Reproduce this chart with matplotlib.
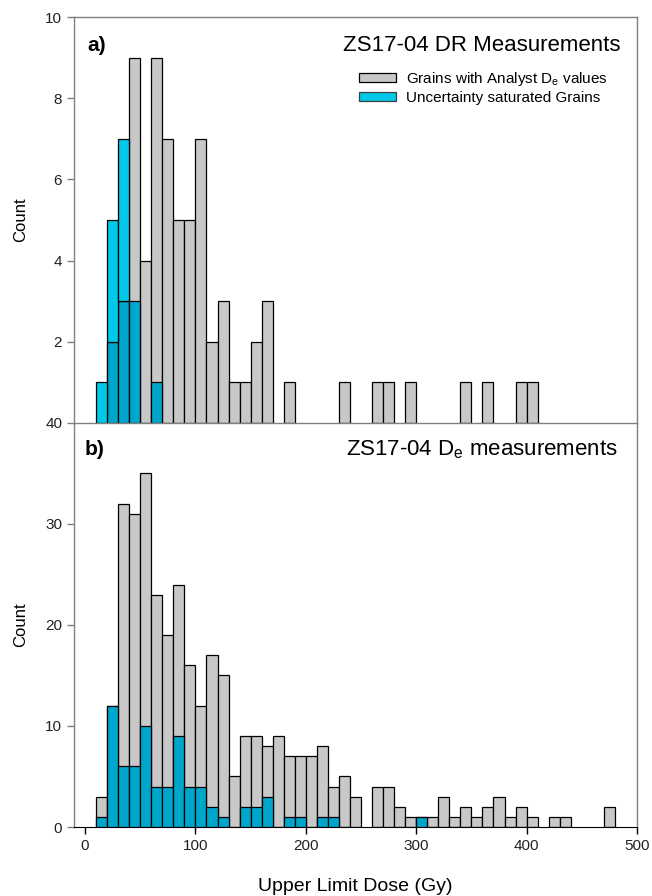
import numpy as np
import matplotlib
matplotlib.use("Agg")
import matplotlib.pyplot as plt
from matplotlib.patches import Patch

plt.rcParams['font.family'] = ['Liberation Sans', 'DejaVu Sans']
plt.rcParams['mathtext.default'] = 'regular'

# limites inferiores de los intervalos (Gy), ancho 10 Gy
bordes = np.arange(10, 490, 10)

# panel a) ZS17-04 DR
dr_gris = [0, 2, 3, 9, 4, 9, 7, 5, 5, 7, 2, 3, 1, 1, 2, 3, 0, 1, 0, 0,
           0, 0, 1, 0, 0, 1, 1, 0, 1, 0, 0, 0, 0, 1, 0, 1, 0, 0, 1, 1,
           0, 0, 0, 0, 0, 0, 0, 0]
dr_cian = [1, 5, 7, 3, 0, 1, 0, 0, 0, 0, 0, 0, 0, 0, 0, 0, 0, 0, 0, 0,
           0, 0, 0, 0, 0, 0, 0, 0, 0, 0, 0, 0, 0, 0, 0, 0, 0, 0, 0, 0,
           0, 0, 0, 0, 0, 0, 0, 0]

# panel b) ZS17-04 De
de_gris = [3, 12, 32, 31, 35, 23, 19, 24, 16, 12, 17, 15, 5, 9, 9, 8, 9, 7, 7, 7,
           8, 4, 5, 3, 0, 4, 4, 2, 1, 1, 1, 3, 1, 2, 1, 2, 3, 1, 2, 1,
           0, 1, 1, 0, 0, 0, 2, 0]
de_cian = [1, 12, 6, 6, 10, 4, 4, 9, 4, 4, 2, 1, 0, 2, 2, 3, 0, 1, 1, 0,
           1, 1, 0, 0, 0, 0, 0, 0, 0, 1, 0, 0, 0, 0, 0, 0, 0, 0, 0, 0,
           0, 0, 0, 0, 0, 0, 0, 0]

GRIS = '#c8c8c8'
CIAN = '#00c8e8'
CIAN_OSC = '#00a5cc'
EJE = '#808080'


def dibujar_histograma(ax, gris, cian):
    gris = np.array(gris)
    cian = np.array(cian)
    solape = np.minimum(gris, cian)
    exceso = np.clip(cian - gris, 0, None)
    m = gris > 0
    ax.bar(bordes[m], gris[m], width=10, align='edge', color=GRIS,
           edgecolor='black', linewidth=0.9, zorder=2)
    m = solape > 0
    ax.bar(bordes[m], solape[m], width=10, align='edge', color=CIAN_OSC,
           edgecolor='black', linewidth=0.9, zorder=3)
    m = exceso > 0
    ax.bar(bordes[m], exceso[m], bottom=gris[m], width=10, align='edge',
           color=CIAN, edgecolor='black', linewidth=0.9, zorder=3)


fig = plt.figure(figsize=(6.52, 8.96), dpi=100)
ax_a = fig.add_axes([0.1135, 0.528, 0.8635, 0.453])
ax_b = fig.add_axes([0.1135, 0.077, 0.8635, 0.451])
ax_b.patch.set_visible(False)

dibujar_histograma(ax_a, dr_gris, dr_cian)
dibujar_histograma(ax_b, de_gris, de_cian)

for ax in (ax_a, ax_b):
    ax.set_xlim(-10, 500)
    for lado in ('left', 'top', 'right'):
        ax.spines[lado].set_color(EJE)
        ax.spines[lado].set_linewidth(1.0)
    ax.tick_params(axis='y', direction='out', length=5, width=1,
                   color=EJE, labelsize=11, labelcolor='#222222')
    ax.set_ylabel('Count', fontsize=12, labelpad=12)

ax_a.set_ylim(0, 10)
ax_a.set_yticks([2, 4, 6, 8, 10])
ax_a.set_xticks([])
ax_a.spines['bottom'].set_visible(False)

ax_b.set_ylim(0, 40)
ax_b.set_yticks([0, 10, 20, 30, 40])
ax_b.set_xticks([0, 100, 200, 300, 400, 500])
ax_b.spines['bottom'].set_color('black')
ax_b.tick_params(axis='x', direction='out', length=5, width=1,
                 color='black', labelsize=11, labelcolor='#222222')
ax_b.set_xlabel('Upper Limit Dose (Gy)', fontsize=14, labelpad=18)

ax_a.text(0.024, 0.93, 'a)', transform=ax_a.transAxes, fontsize=15,
          fontweight='bold', va='center', ha='left')
ax_a.text(0.97, 0.93, 'ZS17-04 DR Measurements', transform=ax_a.transAxes,
          fontsize=16, va='center', ha='right')

ax_b.text(0.019, 0.934, 'b)', transform=ax_b.transAxes, fontsize=15,
          fontweight='bold', va='center', ha='left')
ax_b.text(0.965, 0.934, 'ZS17-04 D$_e$ measurements', transform=ax_b.transAxes,
          fontsize=16, va='center', ha='right')

manejadores = [Patch(facecolor=GRIS, edgecolor='black', linewidth=0.9),
               Patch(facecolor=CIAN, edgecolor='#404040', linewidth=0.9)]
ax_a.legend(manejadores,
            ['Grains with Analyst D$_e$ values', 'Uncertainty saturated Grains'],
            loc='upper right', bbox_to_anchor=(0.962, 0.888), frameon=False,
            fontsize=11, handlelength=2.4, handleheight=0.55,
            handletextpad=0.65, labelspacing=0.2, borderpad=0)

fig.savefig('out.png', dpi=100)
